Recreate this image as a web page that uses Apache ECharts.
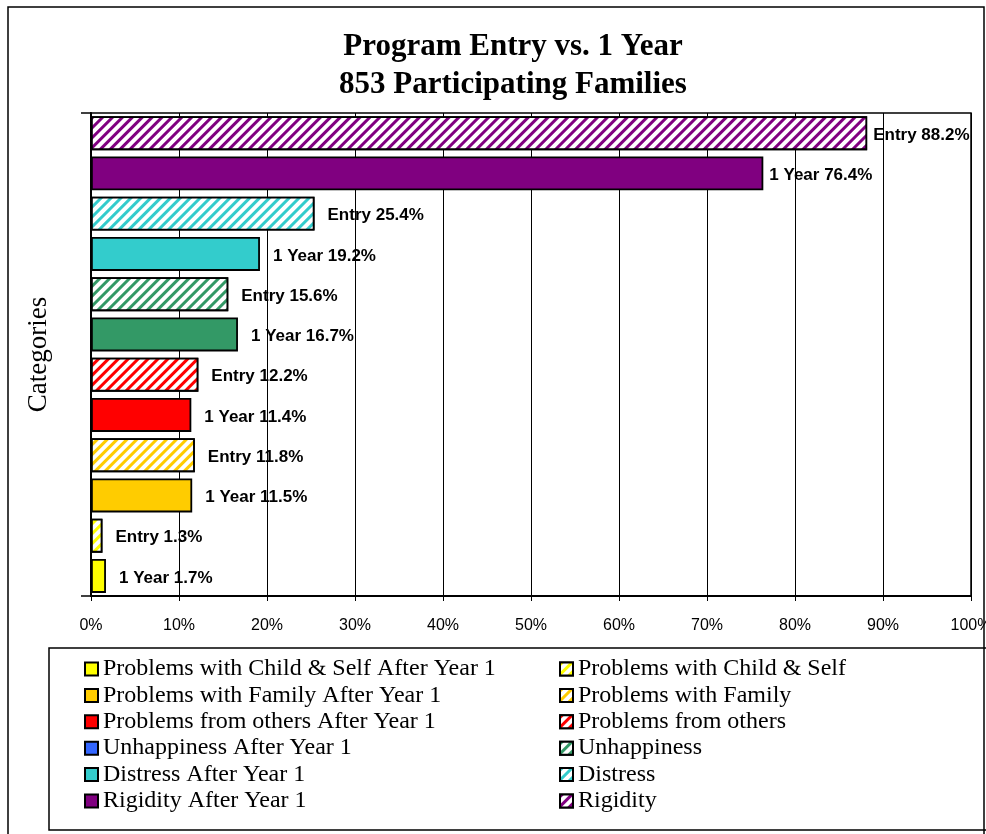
<!DOCTYPE html>
<html>
<head>
<meta charset="utf-8">
<script src="https://cdn.jsdelivr.net/npm/echarts@6/dist/echarts.min.js"></script>
<style>
  html, body { margin: 0; padding: 0; background: #fff; }
  #chart { width: 986px; height: 834px; }
</style>
</head>
<body>
<div id="chart"></div>
<script>
// rows from bottom to top
const rowLabels = ['1 Year', 'Entry', '1 Year', 'Entry', '1 Year', 'Entry',
    '1 Year', 'Entry', '1 Year', 'Entry', '1 Year', 'Entry'];
const rowValues = [1.7, 1.3, 11.5, 11.8, 11.4, 12.2, 16.7, 15.6, 19.2, 25.4, 76.4, 88.2];
const seriesNames = [
    'Problems with Child & Self After Year 1', 'Problems with Child & Self',
    'Problems with Family After Year 1', 'Problems with Family',
    'Problems from others After Year 1', 'Problems from others',
    'Unhappiness After Year 1', 'Unhappiness',
    'Distress After Year 1', 'Distress',
    'Rigidity After Year 1', 'Rigidity'
];
const xTicks = [0, 10, 20, 30, 40, 50, 60, 70, 80, 90, 100];

const colors = ['#FFFF00', '#FFFF00', '#FFCC00', '#FFCC00', '#FF0000', '#FF0000',
    '#339966', '#339966', '#33CCCC', '#33CCCC', '#800080', '#800080'];
// legend swatch for "Unhappiness After Year 1" is blue in the original
const legendColors = colors.slice();
legendColors[6] = '#3366FF';

let chart = echarts.init(document.getElementById('chart'));

let series = [];
for (let i = 0; i < seriesNames.length; i++) {
    let hatched = rowLabels[i] === 'Entry';
    let data = rowValues.map(function (v, j) {
        if (j !== i) return '-';
        return {
            value: v,
            itemStyle: { color: hatched ? '#ffffff' : colors[i] },
            label: { distance: v > 50 ? 6 : 13 }
        };
    });
    let itemStyle = {
        color: hatched ? '#ffffff' : legendColors[i],
        borderColor: '#000',
        borderWidth: 1.8
    };
    if (hatched) {
        itemStyle.decal = {
            symbol: 'rect',
            symbolSize: 1,
            color: colors[i],
            backgroundColor: '#ffffff',
            dashArrayX: [1, 0],
            dashArrayY: [3, 4],
            rotation: -Math.PI / 4
        };
    }
    series.push({
        name: seriesNames[i],
        type: 'bar',
        stack: 'all',
        barWidth: 34,
        data: data,
        itemStyle: itemStyle,
        label: {
            show: true,
            position: 'right',
            offset: [0, 2],
            color: '#000',
            fontFamily: 'Liberation Sans, Arial',
            fontWeight: 'bold',
            fontSize: 17,
            formatter: function (p) {
                return rowLabels[p.dataIndex] + ' ' + p.value.toFixed(1) + '%';
            }
        }
    });
}

const legendText = {
    fontFamily: 'Liberation Serif, Times New Roman',
    fontSize: 24,
    color: '#000',
    lineHeight: 24
};

const option = {
    animation: false,
    title: {
        text: 'Program Entry vs. 1 Year\n853 Participating Families',
        left: 508,
        textAlign: 'center',
        top: 23,
        textStyle: {
            fontFamily: 'Liberation Serif, Times New Roman',
            fontWeight: 'bold',
            fontSize: 31,
            lineHeight: 38,
            color: '#000'
        }
    },
    legend: [
        {
            orient: 'vertical',
            left: 79,
            top: 652,
            icon: 'rect',
            itemWidth: 13,
            itemHeight: 13,
            itemGap: 2.4,
            textStyle: legendText,
            data: seriesNames.filter(function (n, i) { return i % 2 === 0; })
        },
        {
            orient: 'vertical',
            left: 554,
            top: 652,
            icon: 'rect',
            itemWidth: 13,
            itemHeight: 13,
            itemGap: 2.4,
            textStyle: legendText,
            data: seriesNames.filter(function (n, i) { return i % 2 === 1; })
        }
    ],
    grid: {
        left: 91,
        right: 15,
        top: 113,
        bottom: 238,
        outerBoundsMode: 'none',
        containLabel: false,
        show: true,
        borderColor: '#000',
        borderWidth: 1.5
    },
    xAxis: {
        type: 'value',
        min: 0,
        max: 100,
        interval: 10,
        axisLine: { show: true, lineStyle: { color: '#000', width: 2 } },
        axisTick: { show: true, length: 5, lineStyle: { color: '#000', width: 1 } },
        splitLine: { show: true, lineStyle: { color: '#000', width: 1 } },
        axisLabel: {
            margin: 22,
            color: '#000',
            fontFamily: 'Liberation Sans, Arial',
            fontSize: 16,
            formatter: function (v) { return xTicks.indexOf(v) >= 0 ? v + '%' : ''; }
        }
    },
    yAxis: {
        type: 'category',
        data: rowLabels.map(function (l, i) { return l + i; }),
        name: 'Categories',
        nameLocation: 'middle',
        nameGap: 39,
        nameTextStyle: {
            fontFamily: 'Liberation Serif, Times New Roman',
            fontSize: 27,
            color: '#000'
        },
        axisLine: { show: true, lineStyle: { color: '#000', width: 2 } },
        axisTick: { show: true, length: 10, interval: 11, lineStyle: { color: '#000', width: 1.5 } },
        axisLabel: { show: false },
        splitLine: { show: false }
    },
    graphic: [
        {
            type: 'rect',
            shape: { x: 8, y: 7, width: 976, height: 840 },
            style: { fill: null, stroke: '#000', lineWidth: 1.5 },
            silent: true
        },
        {
            type: 'rect',
            shape: { x: 49, y: 648, width: 960, height: 182 },
            style: { fill: null, stroke: '#000', lineWidth: 1.5 },
            silent: true
        }
    ],
    series: series
};

chart.setOption(option);
window.addEventListener('resize', function () {
    chart.resize();
});
</script>
</body>
</html>
